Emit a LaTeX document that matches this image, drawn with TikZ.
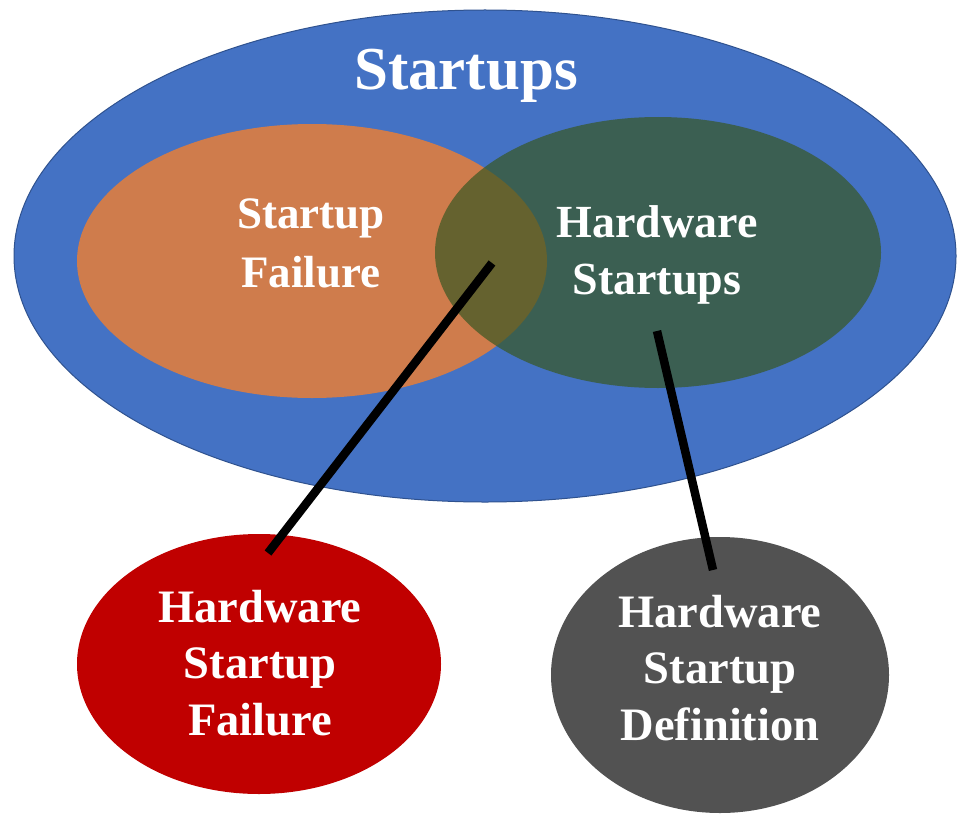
\documentclass[tikz,border=0pt]{standalone}
\usepackage{fontspec}
\setmainfont{Liberation Serif}
\usetikzlibrary{shapes.geometric}
\definecolor{cblue}{HTML}{4472C4}
\definecolor{cblueline}{HTML}{2F528F}
\definecolor{corange}{HTML}{CF7C4C}
\definecolor{cgreen}{HTML}{385723}
\definecolor{cred}{HTML}{C00000}
\definecolor{cgray}{HTML}{525252}
\tikzset{
  blob/.style={ellipse, inner sep=0pt, draw=none},
  lbl/.style={text=white, align=center, inner sep=0pt, anchor=base},
  conn/.style={line width=8.5pt, black, line cap=butt},
}
\begin{document}
\begin{tikzpicture}[x=1pt,y=-1pt]
\useasboundingbox[fill=white] (0,0) rectangle (968,832);
% ellipses
\node[blob, fill=cblue, draw=cblueline, line width=1pt, minimum width=942pt, minimum height=492pt] (startups) at (485,256) {};
\node[blob, fill=corange, minimum width=470pt, minimum height=274pt] (failure) at (312,261) {};
\node[blob, fill=cgreen, fill opacity=0.7, minimum width=446pt, minimum height=271pt] (hardware) at (658,252.5) {};
\node[blob, fill=cred, minimum width=364pt, minimum height=260pt] (hsf) at (259,664) {};
\node[blob, fill=cgray, minimum width=338pt, minimum height=276pt] (hsd) at (720,675) {};
% labels (anchor = baseline of the last line)
\node[lbl, font=\bfseries\fontsize{61}{70}\selectfont] (t-startups) at (466,90) {Startups};
\node[lbl, font=\bfseries\fontsize{45}{59}\selectfont] (t-failure) at (311,287) {Startup\\Failure};
\node[lbl, font=\bfseries\fontsize{46}{57}\selectfont] (t-hardware) at (657,294) {Hardware\\Startups};
\node[lbl, font=\bfseries\fontsize{46.5}{56.5}\selectfont] (t-hsf) at (260,735) {Hardware\\Startup\\Failure};
\node[lbl, font=\bfseries\fontsize{46.5}{56.5}\selectfont] (t-hsd) at (720,740) {Hardware\\Startup\\Definition};
% connector ends
\coordinate (overlap) at (492,263);
\coordinate (hsf-top) at (268,553);
\coordinate (hw-low) at (657,331);
\coordinate (hsd-top) at (713,570);
\draw[conn] (overlap) -- (hsf-top);
\draw[conn] (hw-low) -- (hsd-top);
\end{tikzpicture}
\end{document}
